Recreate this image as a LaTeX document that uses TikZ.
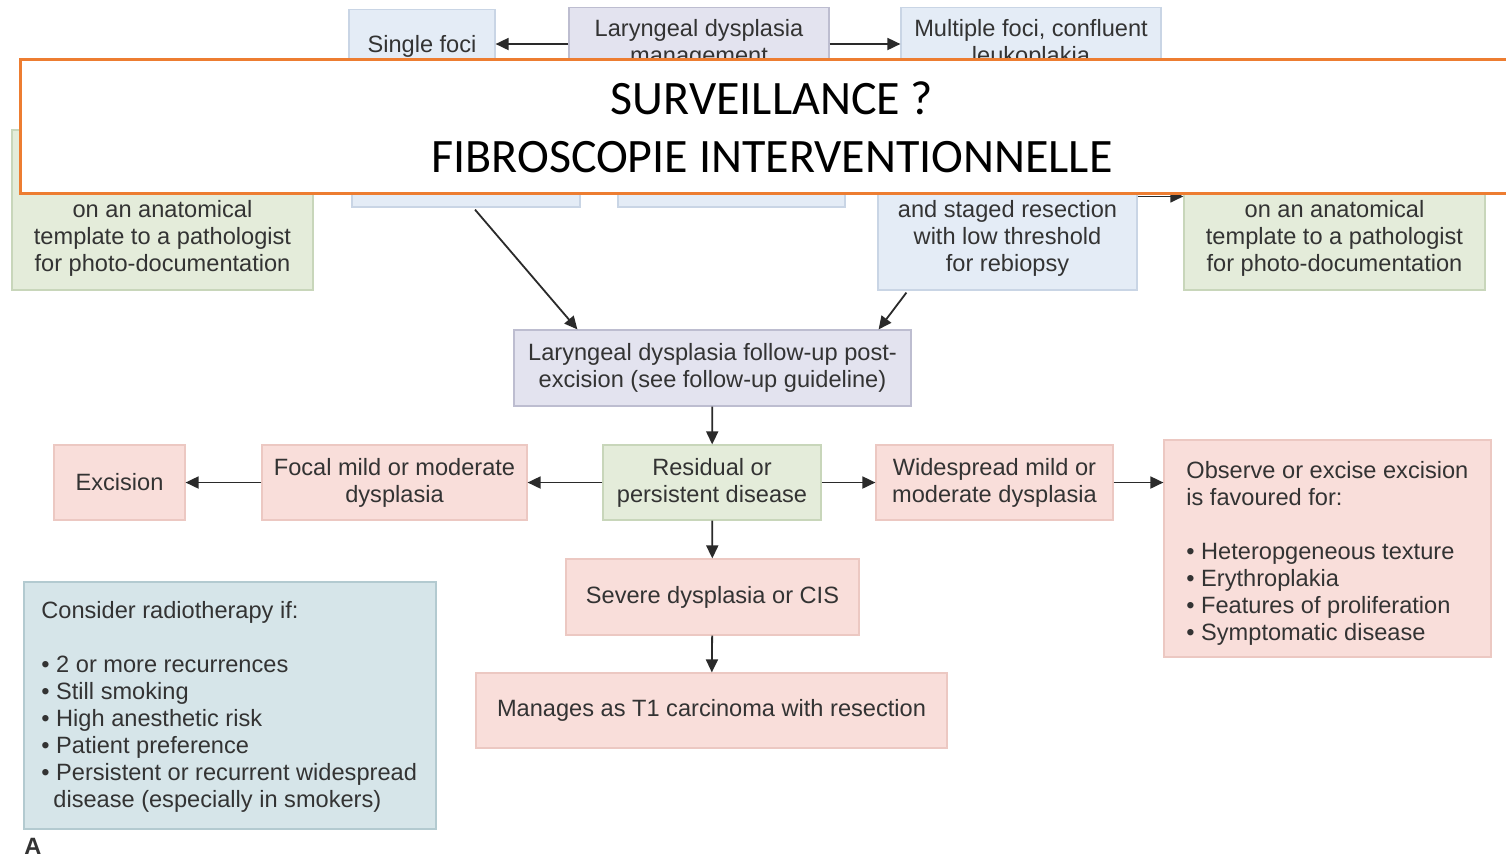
\documentclass[tikz,border=0pt]{standalone}
\usepackage{fontspec}
\setmainfont{Liberation Sans}
\newfontfamily\calibrifont{Carlito}
\usetikzlibrary{arrows.meta,calc}
\definecolor{txt}{HTML}{333333}
\definecolor{bluef}{HTML}{E4ECF6}
\definecolor{blued}{HTML}{C9D5E5}
\definecolor{lavf}{HTML}{E3E3EF}
\definecolor{lavd}{HTML}{BDBDD0}
\definecolor{greenf}{HTML}{E4ECDA}
\definecolor{greend}{HTML}{C8D6BA}
\definecolor{pinkf}{HTML}{F9DEDA}
\definecolor{pinkd}{HTML}{ECC8C2}
\definecolor{consf}{HTML}{D6E5E9}
\definecolor{consd}{HTML}{B3CAD0}
\definecolor{orangeb}{HTML}{ED7D31}
\definecolor{arrc}{HTML}{2A2A2A}
\tikzset{
  basebox/.style={rectangle, draw, line width=0.6pt, inner sep=0pt, align=center, text=txt,
    font=\fontsize{11.8}{13.5}\selectfont},
  bluebox/.style={basebox, fill=bluef, draw=blued},
  lavbox/.style={basebox, fill=lavf, draw=lavd},
  greenbox/.style={basebox, fill=greenf, draw=greend},
  pinkbox/.style={basebox, fill=pinkf, draw=pinkd},
  consbox/.style={basebox, fill=consf, draw=consd},
  plaintext/.style={inner sep=0pt, text=txt, font=\fontsize{11.8}{13.5}\selectfont},
  arr/.style={draw=arrc, line width=0.9pt, -{Triangle[length=6.5pt,width=6pt]}},
}
\begin{document}
\begin{tikzpicture}[x=0.5pt,y=-0.5pt]
\useasboundingbox[fill=white] (0,0) rectangle (1506,859);

% top row
\node[bluebox, minimum width=73pt, minimum height=36.5pt] (single) at (422,46) {Single foci};
\node[lavbox, minimum width=130pt, minimum height=36.5pt] (mgmt) at (699,44) {Laryngeal dysplasia\\management};
\node[bluebox, minimum width=130pt, minimum height=36.5pt] (multi) at (1031,44) {Multiple foci, confluent\\leukoplakia};
\draw[arr] (mgmt) -- (mgmt -| single.east);
\draw[arr] (mgmt) -- (multi);

% second row (mostly hidden)
\node[greenbox, minimum width=150.5pt, minimum height=80pt] (lgreen) at (162.5,210) {};
\node[plaintext, align=center] (lgreentext) at (162.5,238) {on an anatomical\\template to a pathologist\\for photo-documentation};
\node[bluebox, minimum width=114pt, minimum height=30pt] (hida) at (466,177) {};
\node[bluebox, minimum width=113.5pt, minimum height=30pt] (hidb) at (731.5,177) {};
\node[bluebox, minimum width=129.5pt, minimum height=70pt] (rblue) at (1007.5,220) {};
\node[plaintext, align=center] (rbluetext) at (1007.5,238) {and staged resection\\with low threshold\\for rebiopsy};
\node[greenbox, minimum width=150.5pt, minimum height=70pt] (rgreen) at (1334.5,220) {};
\node[plaintext, align=center] (rgreentext) at (1334.5,238) {on an anatomical\\template to a pathologist\\for photo-documentation};
\coordinate (rbout) at ($(rblue.north east)+(0,47)$);
\draw[arr] (rbout) -- (rbout -| rgreen.west);

% follow-up
\node[lavbox, minimum width=198.5pt, minimum height=38pt] (fu) at (712.5,368) {Laryngeal dysplasia follow-up post-\\excision (see follow-up guideline)};
\coordinate (hidaout) at ($(hida.south)+(9,2)$);
\coordinate (fuinl) at ($(fu.north west)+(64,0)$);
\coordinate (rbdown) at ($(rblue.south west)+(29,2)$);
\coordinate (fuinr) at ($(fu.north east)+(-33,0)$);
\draw[arr] (hidaout) -- (fuinl);
\draw[arr] (rbdown) -- (fuinr);

% third row
\node[greenbox, minimum width=109pt, minimum height=37.5pt] (res) at (712,482.5) {Residual or\\persistent disease};
\node[pinkbox, minimum width=132.5pt, minimum height=37.5pt] (focal) at (394.5,482.5) {Focal mild or moderate\\dysplasia};
\node[pinkbox, minimum width=65.5pt, minimum height=37.5pt] (exc) at (119.5,482.5) {Excision};
\node[pinkbox, minimum width=118.5pt, minimum height=37.5pt] (wide) at (994.5,482.5) {Widespread mild or\\moderate dysplasia};
\node[pinkbox, minimum width=163.5pt, minimum height=108.5pt] (obs) at (1327.5,548.5) {};
\node[plaintext, align=left, anchor=north west] (obstext) at (1186,461) {Observe or excise excision\\is favoured for:\\[13.5pt]%
\textbullet\ Heteropgeneous texture\\\textbullet\ Erythroplakia\\\textbullet\ Features of proliferation\\\textbullet\ Symptomatic disease};
\draw[arr] (fu) -- (res);
\draw[arr] (res) -- (focal);
\draw[arr] (focal) -- (exc);
\draw[arr] (res) -- (wide);
\draw[arr] (wide.east) -- (wide.east -| obs.west);

% lower
\node[pinkbox, minimum width=146.5pt, minimum height=38pt] (sev) at (712.5,597) {Severe dysplasia or CIS};
\node[pinkbox, minimum width=235.5pt, minimum height=37.5pt] (man) at (711.5,710.5) {Manages as T1 carcinoma with resection};
\draw[arr] (res) -- (sev);
\draw[arr] (sev) -- (man);

\node[consbox, minimum width=206pt, minimum height=123.5pt] (cons) at (230,705.5) {};
\node[plaintext, align=left, anchor=north west] (constext) at (41,601) {Consider radiotherapy if:\\[13.5pt]%
\textbullet\ 2 or more recurrences\\\textbullet\ Still smoking\\\textbullet\ High anesthetic risk\\\textbullet\ Patient preference\\%
\textbullet\ Persistent or recurrent widespread\\\hspace*{6pt}disease (especially in smokers)};

\node[inner sep=0pt, text=txt, font=\fontsize{11.8}{13.5}\selectfont\bfseries] (labelA) at (33,846) {A};

% overlay
\node[rectangle, draw=orangeb, line width=1.5pt, fill=white, minimum width=746pt, minimum height=67pt] (overlay) at (766,126) {};
\node[align=center, inner sep=0pt, font=\calibrifont\fontsize{24}{29}\selectfont, text=black] (overlaytext) at (772,127)
  {SURVEILLANCE ?\\FIBROSCOPIE INTERVENTIONNELLE};
\end{tikzpicture}
\end{document}
